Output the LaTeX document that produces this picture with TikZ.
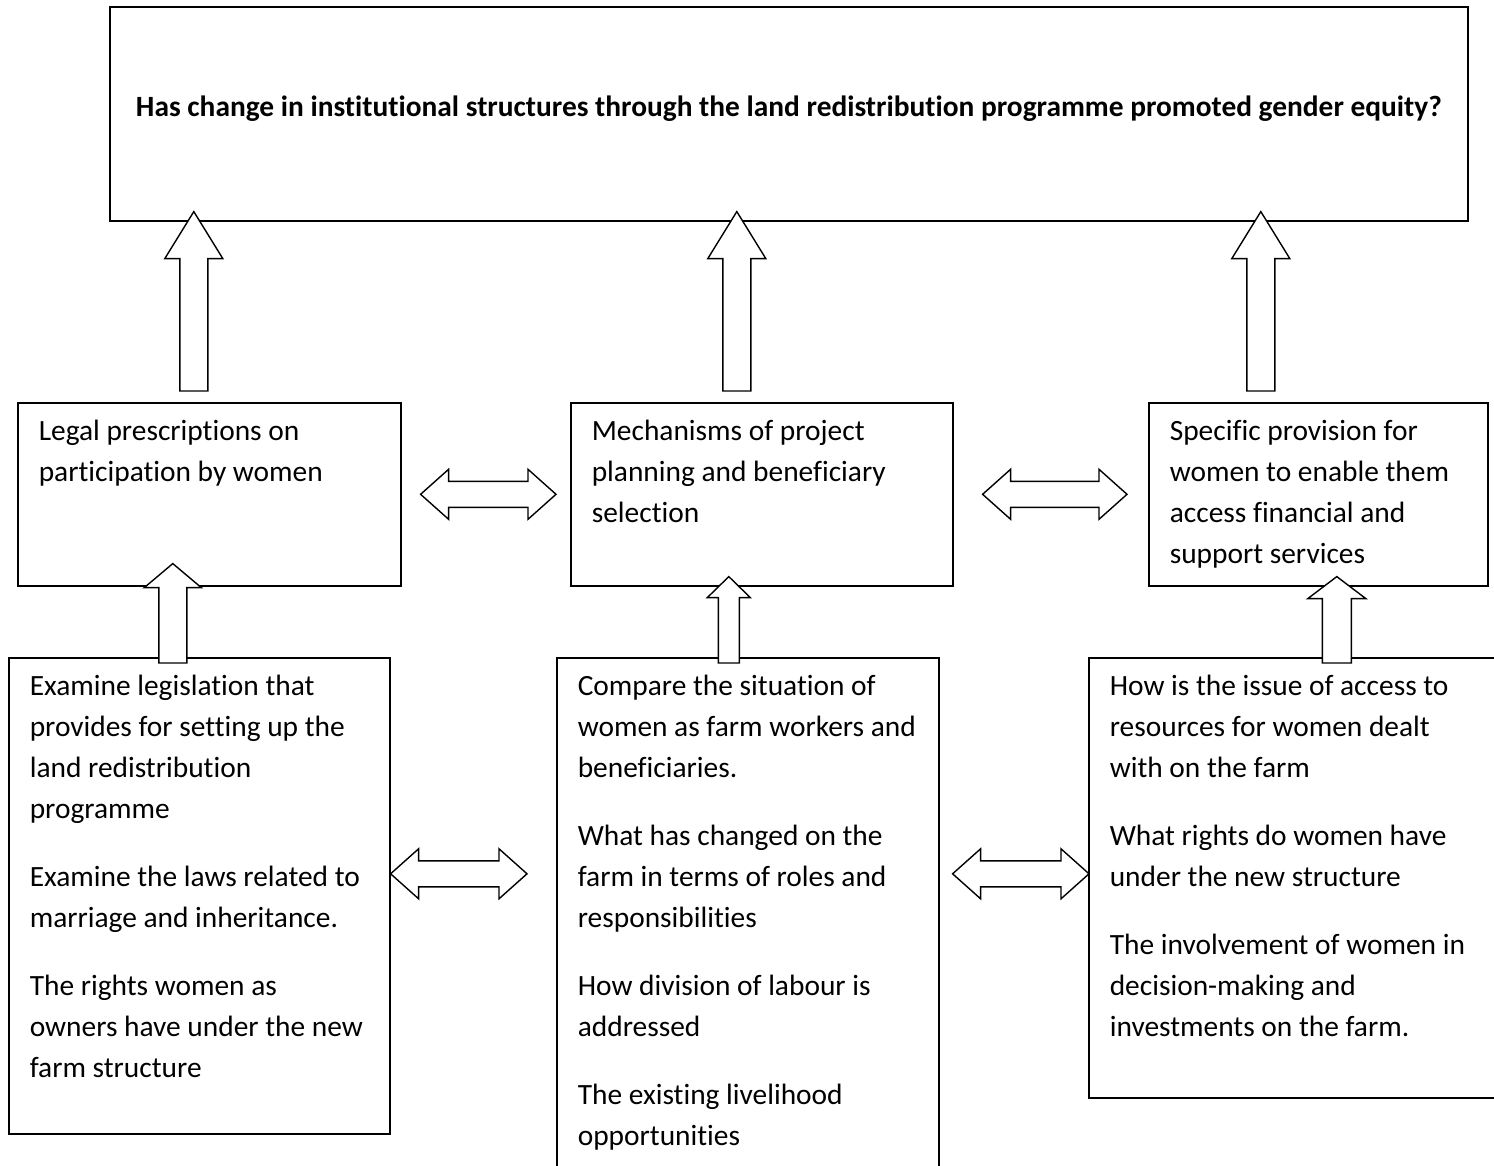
\documentclass[tikz,border=0pt]{standalone}
\usepackage{fontspec}
\setmainfont{Carlito}[Ligatures=NoCommon]
\usetikzlibrary{calc}

\tikzset{
  box/.style={draw, line width=1.6pt, anchor=north west, inner xsep=21pt, inner ysep=0pt,
    align=flush left, text height=38pt, font=\fontsize{29.4}{41}\selectfont},
  blockarr/.style={draw, line width=1.4pt, fill=white, line join=miter},
}

% up block arrow: foot, tip, half head, half shaft, head length
\newcommand{\upblock}[5]{%
  \draw[blockarr] (#2) -- ($(#2)+(#3,#5)$) -- ($(#2)+(#4,#5)$) -- ($(#1)+(#4,0)$)
    -- ($(#1)+(-#4,0)$) -- ($(#2)+(-#4,#5)$) -- ($(#2)+(-#3,#5)$) -- cycle;}
% two-way block arrow between two tips on one line
\newcommand{\bothblock}[2]{%
  \draw[blockarr] (#1) -- ($(#1)+(28,-25)$) -- ($(#1)+(28,-13)$) -- ($(#2)+(-28,-13)$)
    -- ($(#2)+(-28,-25)$) -- (#2) -- ($(#2)+(-28,25)$) -- ($(#2)+(-28,13)$)
    -- ($(#1)+(28,13)$) -- ($(#1)+(28,25)$) -- cycle;}

\begin{document}
\begin{tikzpicture}[x=1pt, y=-1pt]
  \useasboundingbox (0,0) rectangle (1494,1166);

  % Question
  \node[draw, line width=1.6pt, anchor=north west, inner sep=0pt, minimum width=1358pt,
    text height=110pt, text depth=104pt, font=\bfseries\fontsize{29.4}{34}\selectfont] (question) at (109,6)
    {Has change in institutional structures through the land redistribution programme promoted gender equity?};

  % Middle row
  \node[box, text width=341pt, text depth=145pt] (legal) at (17,402)
    {Legal prescriptions on\\participation by women};
  \node[box, text width=340pt, text depth=145pt] (mech) at (570,402)
    {Mechanisms of project\\planning and beneficiary\\selection};
  \node[box, text width=297pt, text depth=145pt] (spec) at (1148,402)
    {Specific provision for\\women to enable them\\access financial and\\support services};

  % Bottom row
  \node[box, text width=339pt, text depth=438pt] (exam) at (8,657)
    {Examine legislation that\\provides for setting up the\\land redistribution\\programme\\[27pt]
     Examine the laws related to\\marriage and inheritance.\\[27pt]
     The rights women as\\owners have under the new\\farm structure};
  \node[box, text width=340pt, text depth=492pt] (comp) at (556,657)
    {Compare the situation of\\women as farm workers and\\beneficiaries.\\[27pt]
     What has changed on the\\farm in terms of roles and\\responsibilities\\[27pt]
     How division of labour is\\addressed\\[27pt]
     The existing livelihood\\opportunities};
  \node[box, text width=380pt, text depth=402pt] (access) at (1088,657)
    {How is the issue of access to\\resources for women dealt\\with on the farm\\[27pt]
     What rights do women have\\under the new structure\\[27pt]
     The involvement of women in\\decision-making and\\investments on the farm.};

  % Arrows up to the question
  \coordinate (legal-foot) at ($(legal.north)+(-15.5,-11)$);
  \coordinate (legal-tip) at ($(question.south -| legal-foot)+(0,-10)$);
  \coordinate (mech-foot) at ($(mech.north)+(-25,-11)$);
  \coordinate (mech-tip) at ($(question.south -| mech-foot)+(0,-10)$);
  \coordinate (spec-foot) at ($(spec.north)+(-57.5,-11)$);
  \coordinate (spec-tip) at ($(question.south -| spec-foot)+(0,-10)$);
  \upblock{legal-foot}{legal-tip}{29}{14}{47}
  \upblock{mech-foot}{mech-tip}{29}{14}{47}
  \upblock{spec-foot}{spec-tip}{29}{14}{47}

  % Arrows up from the bottom row
  \coordinate (exam-foot) at ($(exam.north)+(-26.5,6)$);
  \coordinate (exam-tip) at ($(legal.south -| exam-foot)+(0,-23)$);
  \coordinate (comp-foot) at ($(comp.north)+(-19,6)$);
  \coordinate (comp-tip) at ($(mech.south -| comp-foot)+(0,-10)$);
  \coordinate (access-foot) at ($(access.north)+(37,6)$);
  \coordinate (access-tip) at ($(spec.south -| access-foot)+(0,-10)$);
  \upblock{exam-foot}{exam-tip}{28.5}{14}{24}
  \upblock{comp-foot}{comp-tip}{21.5}{10.5}{21}
  \upblock{access-foot}{access-tip}{29}{14.5}{22}

  % Two-way arrows, middle row
  \coordinate (lm-l) at ($(legal.east)+(19,0)$);
  \coordinate (lm-r) at ($(mech.west)+(-14,0)$);
  \coordinate (ms-l) at ($(mech.east)+(29,0)$);
  \coordinate (ms-r) at ($(spec.west)+(-21,0)$);
  \bothblock{lm-l}{lm-r}
  \bothblock{ms-l}{ms-r}

  % Two-way arrows, bottom row
  \coordinate (ec-l) at ($(exam.east)+(0,-22)$);
  \coordinate (ec-r) at ($(comp.west |- ec-l)+(-29,0)$);
  \coordinate (ca-l) at ($(comp.east |- ec-l)+(13,0)$);
  \coordinate (ca-r) at ($(access.west |- ec-l)+(1,0)$);
  \bothblock{ec-l}{ec-r}
  \bothblock{ca-l}{ca-r}
\end{tikzpicture}
\end{document}
